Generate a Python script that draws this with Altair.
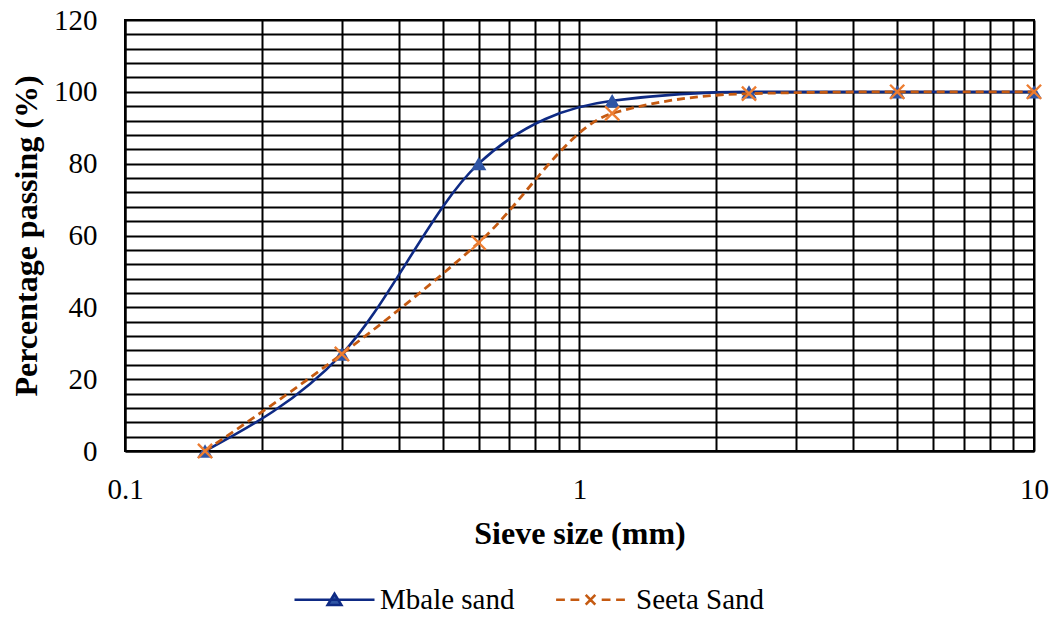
import altair as alt
import pandas as pd

sieve = [0.15, 0.3, 0.6, 1.18, 2.36, 5, 10]
mbale = [0, 27, 80, 97.5, 100, 100, 100]
seeta = [0, 27, 58, 94, 99.5, 100, 100]
series_names = ["Mbale sand", "Seeta Sand"]

x_grid = [0.1, 0.2, 0.3, 0.4, 0.5, 0.6, 0.7, 0.8, 0.9, 1, 2, 3, 4, 5, 6, 7, 8, 9, 10]
y_grid = list(range(0, 121, 4))

rows = []
for s, a, b in zip(sieve, mbale, seeta):
    rows.append({"sieve": s, "pct": a, "series": series_names[0]})
    rows.append({"sieve": s, "pct": b, "series": series_names[1]})
df = pd.DataFrame(rows)

NAVY = "#0E2A84"
BLUE = "#2F55A5"
DORANGE = "#C55A11"
ORANGE = "#ED7D31"
FONT = "Liberation Serif"

xenc = alt.X(
    "sieve:Q",
    scale=alt.Scale(type="log", domain=[0.1, 10], nice=False),
    axis=alt.Axis(
        values=x_grid,
        format="~g",
        labelExpr="(datum.value == 0.1 || datum.value == 1 || datum.value == 10) ? datum.label : ''",
        labelOverlap=False,
        labelFlush=False,
        ticks=False,
        labelPadding=24,
        title="Sieve size (mm)",
        titlePadding=14,
    ),
)
yenc = alt.Y(
    "pct:Q",
    scale=alt.Scale(domain=[0, 120], nice=False),
    axis=alt.Axis(
        values=y_grid,
        labelExpr="datum.value % 20 == 0 ? datum.label : ''",
        labelOverlap=False,
        ticks=False,
        labelPadding=28,
        title="Percentage passing (%)",
        titlePadding=10,
    ),
)

base = alt.Chart(df)

m_line = base.transform_filter(alt.datum.series == series_names[0]).mark_line(
    interpolate="monotone", color=NAVY, strokeWidth=2.6
).encode(x=xenc, y=yenc)
m_pts = base.transform_filter(alt.datum.series == series_names[0]).mark_point(
    shape="triangle-up", filled=True, color=BLUE, size=240, opacity=1
).encode(x=xenc, y=yenc)
s_line = base.transform_filter(alt.datum.series == series_names[1]).mark_line(
    interpolate="monotone", color=DORANGE, strokeWidth=2.8, strokeDash=[8, 5]
).encode(x=xenc, y=yenc)
s_pts = base.transform_filter(alt.datum.series == series_names[1]).mark_point(
    shape="M-1,-1L1,1M-1,1L1,-1", filled=False, color=ORANGE, size=200, strokeWidth=2.4, opacity=1
).encode(x=xenc, y=yenc)

m_path = "M-1,0L1,0M-0.17,0.13L0,-0.15L0.17,0.13Z"
s_path = ("M-0.86,0H-0.64M-0.5,0H-0.28M0.28,0H0.5M0.64,0H0.86"
          "M-0.12,-0.12L0.12,0.12M-0.12,0.12L0.12,-0.12")

leg = alt.Legend(title=None, labelFont=FONT, labelFontSize=29, labelColor="black")

legend_layer = base.transform_filter("false").mark_point(filled=False, size=6400).encode(
    x=xenc,
    y=yenc,
    shape=alt.Shape("series:N", scale=alt.Scale(domain=series_names, range=[m_path, s_path]),
                    legend=leg),
    stroke=alt.Stroke("series:N", scale=alt.Scale(domain=series_names, range=[NAVY, DORANGE]),
                      legend=leg),
    fill=alt.Fill("series:N", scale=alt.Scale(domain=series_names, range=[BLUE, "transparent"]),
                  legend=leg),
)

chart = alt.layer(m_line, m_pts, s_line, s_pts, legend_layer).properties(
    width=909,
    height=431,
    autosize=alt.AutoSizeParams(type="none"),
    padding={"left": 117, "top": 12, "right": 16, "bottom": 164},
).configure(
    font=FONT,
).configure_view(
    stroke="black", strokeWidth=2
).configure_axis(
    grid=True,
    gridColor="black",
    gridWidth=2,
    gridOpacity=1,
    domainColor="black",
    domainWidth=2,
    labelFont=FONT,
    labelFontSize=29,
    labelColor="black",
    titleFont=FONT,
    titleFontSize=32,
    titleFontWeight="bold",
    titleColor="black",
).configure_legend(
    orient="none",
    legendX=168,
    legendY=538,
    direction="horizontal",
    padding=0,
    labelFont=FONT,
    labelFontSize=29,
    labelColor="black",
    labelOffset=4,
    columnPadding=34,
    symbolStrokeWidth=2.6,
    symbolSize=6400,
    symbolOpacity=1,
)

chart.save("out.html", embed_options={"renderer": "svg", "actions": False})
